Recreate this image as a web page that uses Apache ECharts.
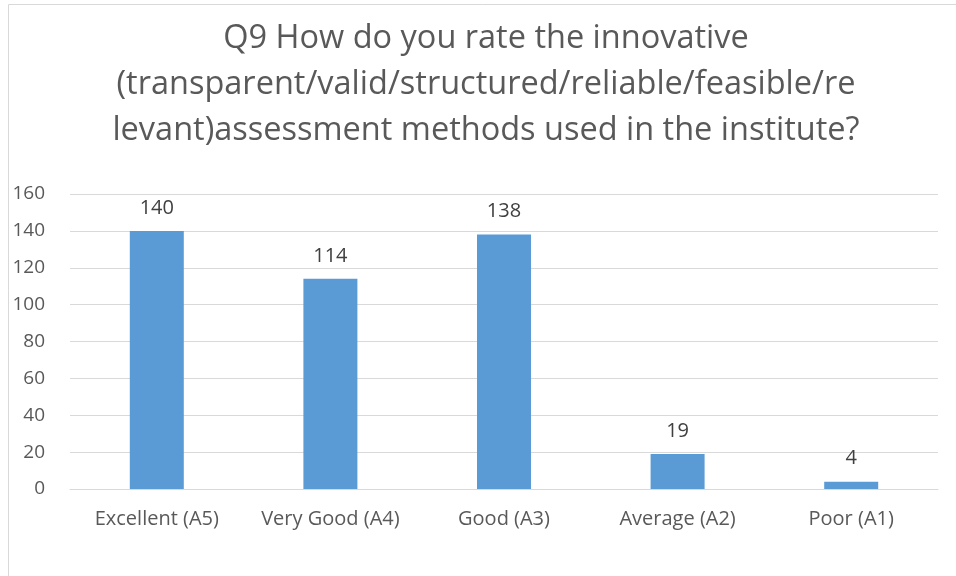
<!DOCTYPE html>
<html><head><meta charset="utf-8">
<script src="https://cdn.jsdelivr.net/npm/echarts@6/dist/echarts.min.js"></script>
<style>html,body{margin:0;padding:0;background:#fff}#c{width:956px;height:576px}</style>
</head><body><div id="c"></div>
<script>
const titleLines = [
  "Q9 How do you rate the innovative",
  "(transparent/valid/structured/reliable/feasible/re",
  "levant)assessment methods used in the institute?"
];
const categories = ["Excellent (A5)", "Very Good (A4)", "Good (A3)", "Average (A2)", "Poor (A1)"];
const values = [140, 114, 138, 19, 4];
const yTicks = [0, 20, 40, 60, 80, 100, 120, 140, 160];

const chart = echarts.init(document.getElementById('c'));
const FONT = "'Open Sans', sans-serif";
chart.setOption({
  animation: false,
  backgroundColor: '#ffffff',
  graphic: [{
    type: 'rect', shape: { x: 8.5, y: 4.5, width: 1200, height: 1200 },
    style: { fill: 'none', stroke: '#d9d9d9', lineWidth: 1 }, silent: true, z: -10
  }],
  title: {
    text: titleLines.join('\n'),
    left: 481, top: 11, textAlign: 'center',
    textStyle: { fontFamily: FONT, fontSize: 32.5, fontWeight: 'normal', color: '#595959', lineHeight: 46 }
  },
  grid: { left: 70, right: 18, top: 194, bottom: 87, containLabel: false },
  xAxis: {
    type: 'category', data: categories,
    axisLine: { show: true, lineStyle: { color: '#d9d9d9', width: 1 } },
    axisTick: { show: false },
    axisLabel: { interval: 0, hideOverlap: false, fontFamily: FONT, fontSize: 20, color: '#595959', margin: 20 }
  },
  yAxis: {
    type: 'value', min: yTicks[0], max: yTicks[yTicks.length - 1], interval: 20,
    axisLine: { show: false }, axisTick: { show: false },
    axisLabel: { fontFamily: FONT, fontSize: 19, color: '#595959', margin: 25 },
    splitLine: { lineStyle: { color: '#d9d9d9', width: 1 } }
  },
  series: [{
    type: 'bar', data: values, barWidth: 54,
    itemStyle: { color: '#5B9BD5' },
    label: { show: true, position: 'top', distance: 13, fontFamily: FONT, fontSize: 20, color: '#404040' }
  }]
});
</script></body></html>
